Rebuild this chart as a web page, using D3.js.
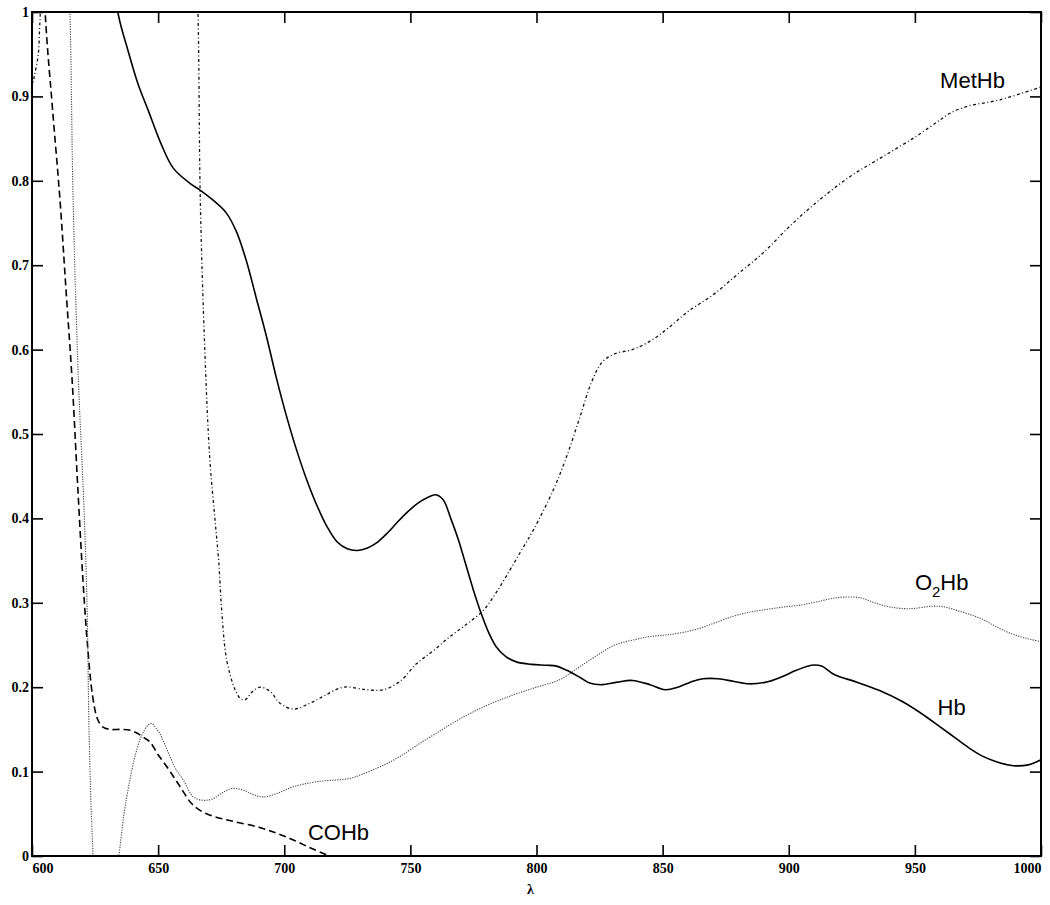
<!DOCTYPE html>
<html>
<head>
<meta charset="utf-8">
<script src="https://cdn.jsdelivr.net/npm/d3@7"></script>
<style>
  body { margin: 0; background: #fff; }
  .tick text { font-family: "Liberation Serif", "DejaVu Serif", serif; font-weight: bold; font-size: 14px; }
  .lbl { font-family: "Liberation Sans", Arial, sans-serif; font-size: 22px; }
</style>
</head>
<body>
<div id="chart"></div>
<script>
// values: [wavelength nm, value]
const hb = [[625, 1.2], [634, 1.0], [638, 0.955], [642, 0.915], [646, 0.884], [651, 0.845], [656, 0.815],
  [662.6, 0.797], [666.6, 0.789], [671.8, 0.777], [677, 0.762], [681, 0.74], [685, 0.705], [689, 0.66],
  [693, 0.615], [697, 0.565], [701, 0.52], [705, 0.48], [709, 0.445], [713, 0.415], [717, 0.39], [721, 0.372],
  [725, 0.364], [729, 0.362], [733, 0.365], [737, 0.372], [741, 0.383], [745, 0.396], [749, 0.408], [753, 0.418],
  [757, 0.425], [760, 0.428], [763, 0.422], [766, 0.4], [769, 0.375], [772, 0.345], [775, 0.315], [778, 0.288],
  [781, 0.265], [784, 0.248], [788, 0.236], [792, 0.23], [798, 0.227], [804, 0.226], [808, 0.225], [812, 0.22],
  [817, 0.212], [821, 0.205], [826, 0.203], [832, 0.206], [838, 0.208], [845, 0.203], [851, 0.197], [856, 0.2],
  [861, 0.206], [866, 0.21], [872, 0.21], [878, 0.207], [884, 0.204], [891, 0.206], [897, 0.212], [903, 0.22],
  [909, 0.226], [913, 0.225], [918, 0.215], [927, 0.206], [936, 0.196], [945, 0.183], [952, 0.17], [960, 0.153],
  [966, 0.14], [972, 0.127], [977, 0.118], [982, 0.112], [989, 0.107], [995, 0.108], [1000, 0.114]];

const o2hb = [[612, 1.3], [615.1, 0.994], [616.3, 0.777], [618.4, 0.564], [620.5, 0.42], [621.8, 0.3],
  [622.6, 0.15], [623.4, 0.06], [624.2, 0], [626, -0.15], [629, -0.2], [632, -0.08], [634.5, 0], [636.5, 0.05],
  [638.8, 0.09], [641, 0.12], [643.5, 0.143], [646, 0.155], [647.5, 0.157], [649, 0.152], [650.7, 0.145],
  [652.5, 0.133], [654.7, 0.118], [657, 0.103], [660, 0.09], [664, 0.07], [667.9, 0.066], [671.9, 0.068],
  [675.5, 0.075], [679.2, 0.08], [683.8, 0.078], [687.5, 0.073], [691.7, 0.07], [697, 0.074], [703.6, 0.082],
  [712.9, 0.088], [726.1, 0.092], [731, 0.097], [736.7, 0.104], [741, 0.11], [745.9, 0.118], [752, 0.13],
  [760, 0.145], [770, 0.163], [780, 0.178], [790, 0.19], [800, 0.2], [809.3, 0.209], [817, 0.224], [825.2, 0.24],
  [831, 0.25], [838.4, 0.256], [845, 0.26], [851.6, 0.262], [858.2, 0.265], [865, 0.27], [871.4, 0.277],
  [878, 0.284], [884.6, 0.289], [891, 0.292], [897.9, 0.295], [904, 0.297], [911, 0.301], [919, 0.306],
  [928.3, 0.306], [934, 0.3], [940.2, 0.295], [948, 0.293], [957.3, 0.296], [962, 0.295], [966.6, 0.291],
  [972, 0.286], [977.1, 0.28], [982, 0.272], [987.7, 0.264], [994, 0.258], [1000, 0.254]];

const methb = [[600, 0.91], [601, 0.925], [602.5, 0.95], [603, 0.98], [603.3, 1.0], [604, 1.1], [630, 1.4], [660, 1.3],
  [664, 1.15], [665.8, 1.0], [666.7, 0.78], [668.5, 0.6], [670.5, 0.47], [672.5, 0.4], [674, 0.35], [675.2, 0.291],
  [677.2, 0.232], [680.5, 0.197], [682.5, 0.187], [684.4, 0.185], [687.5, 0.195], [690.4, 0.2], [694.4, 0.195],
  [698.3, 0.181], [703.6, 0.174], [710.2, 0.181], [716, 0.19], [723.4, 0.2], [732.7, 0.197], [739.3, 0.197],
  [745.9, 0.207], [752.5, 0.228], [759, 0.243], [765.7, 0.26], [772, 0.274], [778.9, 0.291], [784, 0.312],
  [789.5, 0.339], [794, 0.362], [798.7, 0.386], [806.7, 0.434], [811.9, 0.473], [817.2, 0.52], [821.9, 0.562],
  [826, 0.585], [831, 0.595], [838, 0.6], [845, 0.61], [852, 0.625], [860, 0.645], [870, 0.665], [880, 0.69],
  [890, 0.715], [900, 0.745], [910, 0.772], [924.3, 0.805], [937.5, 0.829], [950.7, 0.853], [959.9, 0.872],
  [963.9, 0.88], [970.5, 0.888], [983.7, 0.896], [1000, 0.911]];

const cohb = [[600, 1.4], [605.2, 1.0], [608, 0.89], [611.1, 0.777], [613.5, 0.67], [615.9, 0.564], [618, 0.445],
  [620.2, 0.327], [622, 0.25], [624, 0.19], [626, 0.162], [628, 0.153], [631, 0.15], [635, 0.15], [639, 0.149],
  [642, 0.145], [644.5, 0.14], [646.8, 0.135], [650, 0.12], [653.4, 0.106], [657, 0.09], [660, 0.076],
  [663, 0.063], [666.6, 0.054], [672, 0.047], [679.8, 0.041], [690, 0.034], [697, 0.027], [703.6, 0.019],
  [710, 0.01], [715.5, 0.003], [718, 0], [722, -0.01], [1000, -0.01]];

const xTicks = [600, 650, 700, 750, 800, 850, 900, 950, 1000];
const yTicks = [0, 0.1, 0.2, 0.3, 0.4, 0.5, 0.6, 0.7, 0.8, 0.9, 1];

// set the dimensions and margins of the graph
const margin = {top: 12, right: 9, bottom: 49, left: 32},
      width = 1050 - margin.left - margin.right,
      height = 905 - margin.top - margin.bottom;

const svg = d3.select("#chart")
  .append("svg")
  .attr("width", width + margin.left + margin.right)
  .attr("height", height + margin.top + margin.bottom)
  .append("g")
  .attr("transform", `translate(${margin.left}, ${margin.top})`);

const x = d3.scaleLinear().domain([600, 1000]).range([0, width]);
const y = d3.scaleLinear().domain([0, 1]).range([height, 0]);

const yFmt = d => (d === 0 || d === 1) ? String(d) : d.toFixed(1);

// axes, ticks pointing inward on all four sides
const gx = svg.append("g")
  .attr("transform", `translate(0, ${height})`)
  .call(d3.axisBottom(x).tickValues(xTicks).tickSize(-11).tickPadding(7).tickFormat(d3.format("d")));
gx.selectAll(".tick text")
  .attr("text-anchor", d => d === 600 ? "start" : d === 1000 ? "end" : "middle");

svg.append("g")
  .call(d3.axisLeft(y).tickValues(yTicks).tickSize(-11).tickPadding(3).tickFormat(yFmt));

svg.append("g")
  .call(d3.axisTop(x).tickValues(xTicks).tickSize(-11).tickFormat(""));

svg.append("g")
  .attr("transform", `translate(${width}, 0)`)
  .call(d3.axisRight(y).tickValues(yTicks).tickSize(-11).tickFormat(""));

svg.selectAll(".domain").remove();
svg.selectAll(".tick line").attr("stroke", "#000").attr("stroke-width", 1.6);

svg.append("defs").append("clipPath").attr("id", "plotclip")
  .append("rect").attr("width", width).attr("height", height);

const line = d3.line()
  .x(d => x(d[0]))
  .y(d => y(d[1]))
  .curve(d3.curveCatmullRom);

const plot = svg.append("g").attr("clip-path", "url(#plotclip)");

plot.append("path").datum(cohb)
  .attr("fill", "none").attr("stroke", "#000").attr("stroke-width", 1.6)
  .attr("stroke-dasharray", "7,4")
  .attr("d", line);

plot.append("path").datum(o2hb)
  .attr("fill", "none").attr("stroke", "#444").attr("stroke-width", 1.1)
  .attr("stroke-dasharray", "1.2,1.3")
  .attr("d", line);

plot.append("path").datum(methb)
  .attr("fill", "none").attr("stroke", "#111").attr("stroke-width", 1.3)
  .attr("stroke-dasharray", "3,2.5,1,2.5")
  .attr("d", line);

plot.append("path").datum(hb)
  .attr("fill", "none").attr("stroke", "#000").attr("stroke-width", 1.6)
  .attr("d", line);

// frame
svg.append("rect")
  .attr("width", width).attr("height", height)
  .attr("fill", "none").attr("stroke", "#000").attr("stroke-width", 2);

// curve labels
svg.append("text").attr("class", "lbl").attr("x", x(960)).attr("y", y(0.91)).text("MetHb");
const o2 = svg.append("text").attr("class", "lbl").attr("x", x(950)).attr("y", y(0.315));
o2.append("tspan").text("O");
o2.append("tspan").attr("font-size", "15px").attr("dy", 7).text("2");
o2.append("tspan").attr("dy", -7).text("Hb");
svg.append("text").attr("class", "lbl").attr("x", x(959)).attr("y", y(0.167)).text("Hb");
svg.append("text").attr("class", "lbl").attr("x", x(709.4)).attr("y", y(0.019)).text("COHb");

// x axis title
svg.append("text")
  .attr("x", width / 2 - 6).attr("y", height + 38)
  .attr("text-anchor", "middle")
  .style("font-family", "'Liberation Serif', serif").style("font-size", "14px").style("font-weight", "bold")
  .text("λ");
</script>
</body>
</html>
